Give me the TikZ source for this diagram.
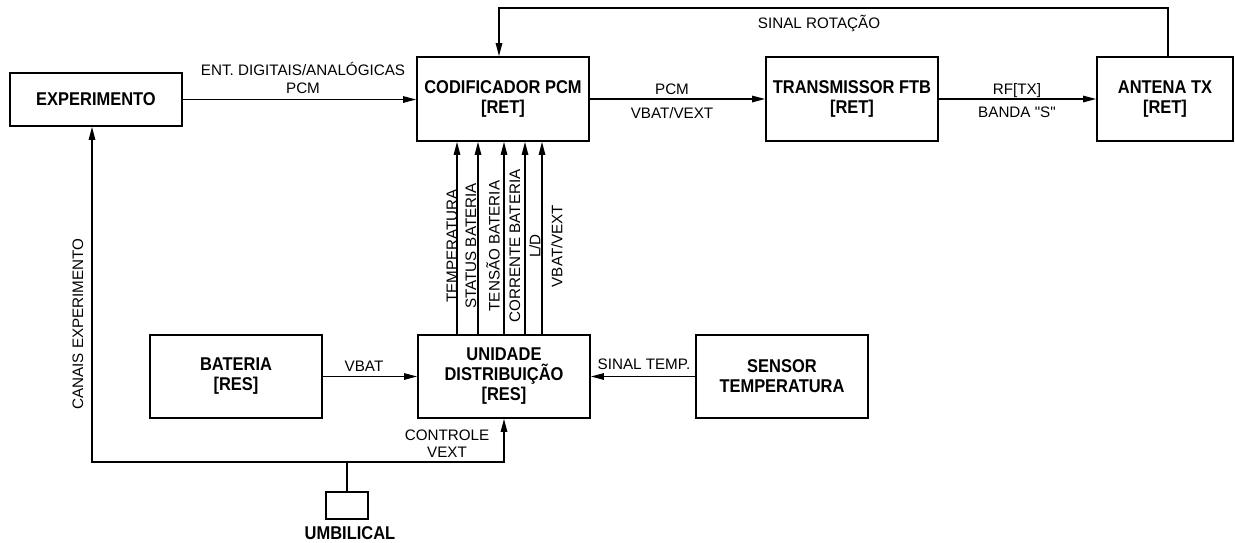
\documentclass[tikz,border=0pt]{standalone}
\usepackage{fontspec}
\setmainfont{Liberation Sans}[Ligatures=TeXOff]
\newfontfamily\boxfont[FakeStretch=0.89]{Liberation Sans}
\usetikzlibrary{arrows.meta,calc}
\begin{document}
\begin{tikzpicture}[x=1pt,y=-1pt,
  box/.style={draw,line width=1.8pt,minimum width=172pt,minimum height=84pt,inner sep=0pt,align=center,font=\boxfont\fontsize{18.5}{20}\selectfont\bfseries},
  lbl/.style={inner sep=0pt,anchor=base,font=\fontsize{15.2}{18}\selectfont},
  rlbl/.style={inner sep=0pt,rotate=90,font=\fontsize{15.2}{18}\selectfont},
  conn/.style={line width=1.3pt},
  arr/.style={conn,-{Triangle[length=13pt,width=6.5pt]}}]
\useasboundingbox (0,0) rectangle (1235,542);
% boxes
\node[box,minimum height=53pt] (exp) at (96,99.5) {EXPERIMENTO};
\node[box] (cod) at (503,99) {CODIFICADOR PCM\\{[RET]}};
\node[box] (tra) at (852,99) {TRANSMISSOR FTB\\{[RET]}};
\node[box,minimum width=136pt] (ant) at (1165,99) {ANTENA TX\\{[RET]}};
\node[box,minimum height=83pt] (bat) at (236,376.5) {BATERIA\\{[RES]}};
\node[box,minimum height=83pt] (uni) at (504,376.5) {UNIDADE\\DISTRIBUIÇÃO\\{[RES]}};
\node[box,minimum height=83pt] (sen) at (782,376.5) {SENSOR\\TEMPERATURA};
\node[draw,line width=1.5pt,minimum width=42pt,minimum height=27pt,inner sep=0pt] (umb) at (347,505.5) {};
\node[inner sep=0pt,anchor=base,font=\boxfont\fontsize{18.5}{20}\selectfont\bfseries] (umbl) at (350,539.5) {UMBILICAL};
% connectors
\draw[arr] (exp.east) -- (exp.east -| cod.west);
\draw[arr] (cod) -- (tra);
\draw[arr] (tra) -- (ant);
\coordinate (top) at (0,8);
\draw[arr] ([xshift=3pt]ant.north) -- ([xshift=3pt]ant.north |- top) -| ([xshift=-4pt]cod.north);
\foreach \dx in {-47,-26,0,21,38}{
  \draw[arr] ([xshift=\dx pt]uni.north) -- ([xshift=\dx pt]uni.north |- cod.south);
}
\draw[arr] (bat) -- (uni);
\draw[arr] (sen) -- (uni);
\coordinate (j) at (347,462);
\draw[conn] (umb.north) -- (j);
\draw[arr] (j) -| ([xshift=-4pt]exp.south);
\draw[arr] (j) -| (uni.south);
% labels
\node[lbl] (l1) at (303,75.5) {ENT. DIGITAIS/ANALÓGICAS};
\node[lbl] (l2) at (303,93.5) {PCM};
\node[lbl] (l3) at (672,94.5) {PCM};
\node[lbl] (l4) at (672,118.5) {VBAT/VEXT};
\node[lbl] (l5) at (1017,94.5) {RF[TX]};
\node[lbl] (l6) at (1017,117.5) {BANDA "S"};
\node[lbl] (l7) at (819,28.5) {SINAL ROTAÇÃO};
\node[lbl] (l8) at (364,371.5) {VBAT};
\node[lbl] (l9) at (644,369.5) {SINAL TEMP.};
\node[lbl] (l10) at (447,440.5) {CONTROLE};
\node[lbl] (l11) at (447,457.5) {VEXT};
\node[rlbl] (l12) at (78,324) {CANAIS EXPERIMENTO};
\node[rlbl] (v1) at (452,246) {TEMPERATURA};
\node[rlbl] (v2) at (471,246) {STATUS BATERIA};
\node[rlbl] (v3) at (493,246) {TENSÃO BATERIA};
\node[rlbl] (v4) at (515,246) {CORRENTE BATERIA};
\node[rlbl] (v5) at (535,246) {L/D};
\node[rlbl] (v6) at (557,246) {VBAT/VEXT};
\end{tikzpicture}
\end{document}
